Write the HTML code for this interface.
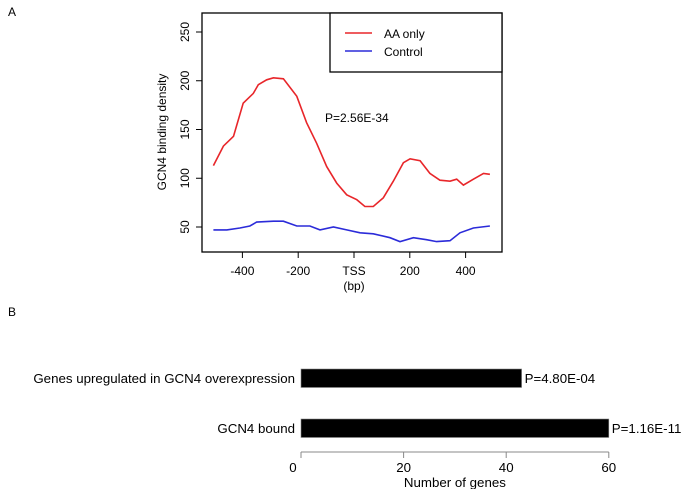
<!DOCTYPE html>
<html><head><meta charset="utf-8"><style>
html,body{margin:0;padding:0;background:#fff;}
svg{display:block;font-family:"Liberation Sans",Arial,sans-serif;}
</style></head><body>
<svg id="fig" width="682" height="489" viewBox="0 0 682 489">
<text x="8" y="16" font-size="12">A</text>
<text x="8" y="316" font-size="12">B</text>
<g id="chartA"></g>
<g id="chartB"></g>
</svg>
<script>
// ---- Panel A data ----
const aaX = [-504,-468,-432,-397,-361,-343,-313,-289,-253,-205,-170,-134,-98,-62,-26,10,39,69,105,141,177,201,237,272,308,344,368,392,428,464,487];
const aaY = [113,133,143,177,187,196,201,203,202,184,157,136,112,95,83,78,71,71,80,97,116,120,118,105,98,97,99,93,99,105,104];
const ctlX = [-504,-456,-409,-373,-349,-289,-253,-205,-158,-122,-74,-26,22,69,129,165,213,260,296,344,380,428,487];
const ctlY = [47,47,49,51,55,56,56,51,51,47,50,47,44,43,39,35,39,37,35,36,44,49,51];
const xTicks = [-400,-200,0,200,400];
const xTickLabels = ["-400","-200","TSS","200","400"];
const yTicks = [50,100,150,200,250];
// ---- Panel B data ----
const barCats = ["Genes upregulated in GCN4 overexpression","GCN4 bound"];
const barVals = [43,60];
const barP = ["P=4.80E-04","P=1.16E-11"];
const bTicks = [0,20,40,60];

const NS="http://www.w3.org/2000/svg";
function mk(parent,tag,attrs,text){const e=document.createElementNS(NS,tag);for(const k in attrs)e.setAttribute(k,attrs[k]);if(text!==undefined)e.textContent=text;parent.appendChild(e);return e;}

// Panel A
const A=document.getElementById('chartA');
const xA=v=>354+v*0.279;
const yA=v=>227-(v-50)*0.975;
let e;
e=mk(A,'rect',{x:202,y:13,width:300,height:239,fill:'none',stroke:'#000','stroke-width':1.3});


yTicks.forEach(t=>{
  e=mk(A,'line',{x1:196,x2:202,y1:yA(t),y2:yA(t),stroke:'#000'});
  
  
  e=mk(A,'text',{x:0,y:0,'font-size':12,'text-anchor':'middle',transform:`translate(189,${yA(t)}) rotate(-90)`},String(t));
  
  
});
xTicks.forEach((t,i)=>{
  e=mk(A,'line',{x1:xA(t),x2:xA(t),y1:252,y2:258,stroke:'#000'});
  
  
  e=mk(A,'text',{x:xA(t),y:275,'font-size':12,'text-anchor':'middle'},xTickLabels[i]);
  
  
});
e=mk(A,'text',{x:xA(0),y:290,'font-size':12,'text-anchor':'middle'},'(bp)');


e=mk(A,'text',{x:0,y:0,'font-size':12,'text-anchor':'middle',transform:'translate(166,132) rotate(-90)'},'GCN4 binding density');


function pts(xs,ys){return xs.map((x,i)=>xA(x).toFixed(1)+','+yA(ys[i]).toFixed(1)).join(' ');}
e=mk(A,'polyline',{points:pts(aaX,aaY),fill:'none',stroke:'#e8262a','stroke-width':1.6});


e=mk(A,'polyline',{points:pts(ctlX,ctlY),fill:'none',stroke:'#2b2bd9','stroke-width':1.6});


e=mk(A,'text',{x:325,y:122,'font-size':12},'P=2.56E-34');


const L=mk(A,'g',{});


mk(L,'rect',{x:330,y:13,width:172,height:59,fill:'#fff',stroke:'#000','stroke-width':1.3});
e=mk(L,'line',{x1:345,x2:372,y1:33,y2:33,stroke:'#e8262a','stroke-width':1.6});


e=mk(L,'text',{x:384,y:38,'font-size':12},'AA only');


e=mk(L,'line',{x1:345,x2:372,y1:51,y2:51,stroke:'#2b2bd9','stroke-width':1.6});


e=mk(L,'text',{x:384,y:56,'font-size':12},'Control');



// Panel B
const B=document.getElementById('chartB');
const xB=v=>301+v*5.13;
const barTop=[369,419];
barCats.forEach((c,i)=>{
  const y0=barTop[i];
  e=mk(B,'rect',{x:xB(0),y:y0,width:xB(barVals[i])-xB(0),height:18.5,fill:'#000',stroke:'#888','stroke-width':0.6});
  
  
  e=mk(B,'text',{x:295,y:y0+14,'font-size':13.3,'text-anchor':'end'},c);
  
  
  e=mk(B,'text',{x:xB(barVals[i])+3,y:y0+14,'font-size':13.3},barP[i]);
  
  
});
e=mk(B,'line',{x1:xB(0),x2:xB(60),y1:452,y2:452,stroke:'#888','stroke-width':1});


bTicks.forEach(t=>{
  e=mk(B,'line',{x1:xB(t),x2:xB(t),y1:452,y2:458,stroke:'#888'});
  
  
  e=mk(B,'text',{x:xB(t)-(t===0?8:0),y:472,'font-size':13.3,'text-anchor':'middle'},String(t));
  
  
});
e=mk(B,'text',{x:xB(30),y:487,'font-size':13.3,'text-anchor':'middle'},'Number of genes');


</script>
</body></html>
